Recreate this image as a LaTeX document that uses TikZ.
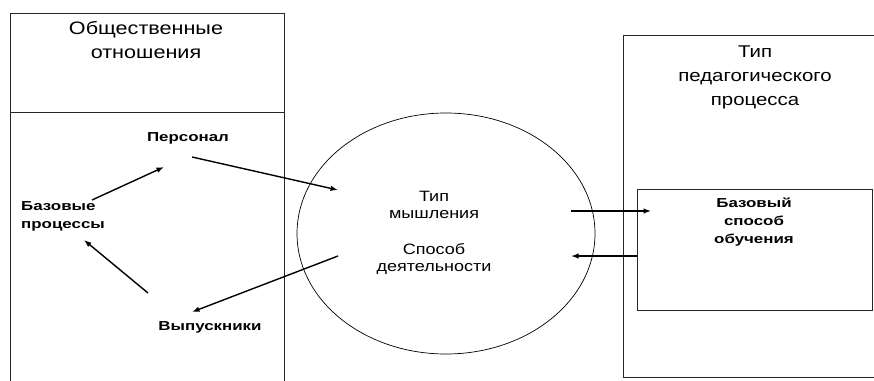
\documentclass[tikz,border=0pt]{standalone}
\usepackage{fontspec}
\setmainfont{Liberation Sans}[FakeStretch=1.2]
\newfontfamily\boldfam{Liberation Sans Bold}[FakeStretch=1.3]
\usetikzlibrary{arrows.meta}
\begin{document}
\begin{tikzpicture}[x=1pt,y=-1pt,
  frame/.style={draw=black!85,line width=0.9pt},
  plain/.style={align=center,inner sep=0pt,font=\fontsize{17}{24}\selectfont},
  bold/.style={align=center,inner sep=0pt,font=\fontsize{13}{18}\selectfont\boldfam},
  arr/.style={line width=1.4pt,-{Latex[length=7.5pt,width=5.5pt]}}]
\clip (0,0) rectangle (874,380);
\fill[white] (0,0) rectangle (874,380);
% left box
\draw[frame] (10,395) -- (10,13) -- (284,13) -- (284,395);
\draw[frame] (10,112) -- (284,112);
% right box
\draw[frame] (623,35) rectangle (890,377);
\node[frame,minimum width=235pt,minimum height=121pt,inner sep=0pt] (bbox) at (754.5,249.5) {};
% ellipse
\draw[line width=0.7pt] (446,233.5) ellipse [x radius=149,y radius=120.5];
% texts
\node[plain,font=\fontsize{18}{24}\selectfont] (otn) at (146,40) {Общественные\\отношения};
\node[bold] (pers) at (188,138) {Персонал};
\node[bold,align=left,anchor=west] (baz) at (21,216) {Базовые\\процессы};
\node[bold] (vyp) at (210,327) {Выпускники};
\node[plain,font=\fontsize{15}{17.5}\selectfont] (mysh) at (434,205) {Тип\\мышления};
\node[plain,font=\fontsize{15}{17.5}\selectfont] (spos) at (434,259) {Способ\\деятельности};
\node[plain] (tip) at (755,77) {Тип\\педагогического\\процесса};
\node[bold] (bsp) at (754,222) {Базовый\\способ\\обучения};
% arrow endpoints
\coordinate (a1s) at (92,200);
\coordinate (a1e) at (164,167);
\coordinate (a2s) at (192,157);
\coordinate (a2e) at (338,190);
\coordinate (a3s) at (148,293);
\coordinate (a3e) at (84,240);
\coordinate (a4s) at (338,256);
\coordinate (a4e) at (192,312);
\coordinate (a5s) at (571,211);
\coordinate (a5e) at (651,211);
\coordinate (a6e) at (571,256);
% arrows
\draw[arr] (a1s) -- (a1e);
\draw[arr] (a2s) -- (a2e);
\draw[arr] (a3s) -- (a3e);
\draw[arr] (a4s) -- (a4e);
\draw[arr] (a5s) -- (a5e);
\draw[arr] (bbox.west |- a6e) -- (a6e);
\end{tikzpicture}
\end{document}
